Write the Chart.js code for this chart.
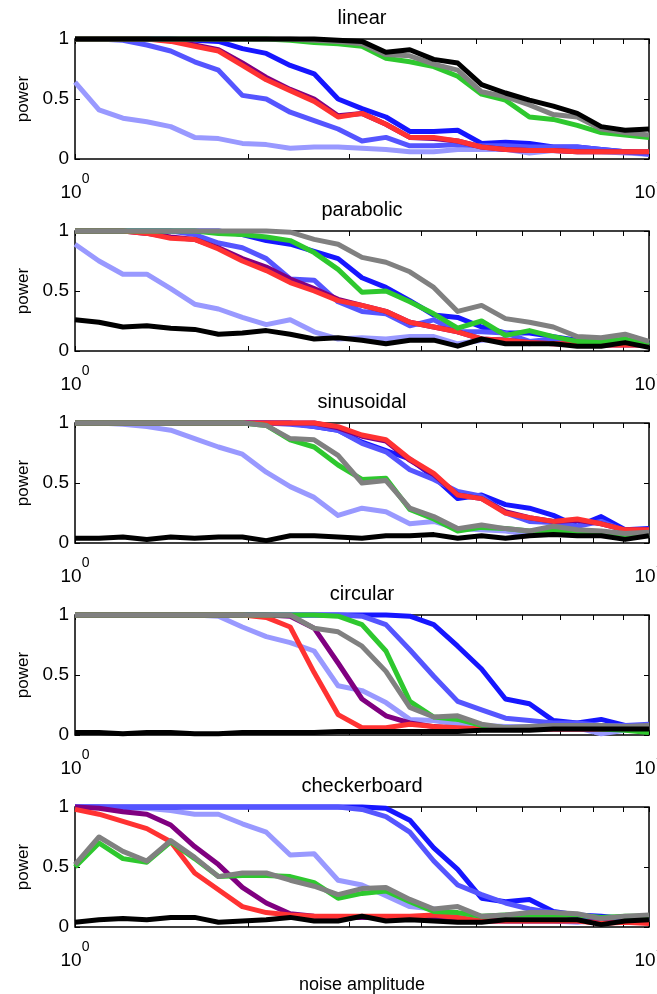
<!DOCTYPE html>
<html>
<head>
<meta charset="utf-8">
<script src="https://cdn.jsdelivr.net/npm/chart.js@4.4.1/dist/chart.umd.min.js"></script>
<style>
  html, body { margin: 0; padding: 0; background: #fff; }
  #wrap { position: relative; width: 657px; height: 994px; overflow: hidden; }
  #wrap canvas { position: absolute; left: 0; }
</style>
</head>
<body>
<div id="wrap"></div>
<script>
// noise amplitude, log spaced from 10^0 to 10^1
const noiseLevels = [1.000, 1.101, 1.212, 1.334, 1.468, 1.616, 1.778, 1.957, 2.154, 2.371, 2.610, 2.873,
  3.162, 3.481, 3.831, 4.217, 4.642, 5.109, 5.623, 6.190, 6.813, 7.499, 8.254, 9.085, 10.000];
const xTickValues = [1, 2, 3, 4, 5, 6, 7, 8, 9, 10];
const xLabelValues = [1, 10];
const yTickValues = [0, 0.5, 1];
const panelTitles = ['linear', 'parabolic', 'sinusoidal', 'circular', 'checkerboard'];

// linear
const linBlack = [1, 1, 1, 1, 1, 1, 1, 1, 1, 1, 1, 0.99, 0.98, 0.89, 0.91, 0.83, 0.80, 0.62, 0.55, 0.49, 0.44, 0.38, 0.27, 0.24, 0.25];
const linGray = [1, 1, 1, 1, 1, 1, 1, 1, 1, 1, 0.99, 0.98, 0.96, 0.87, 0.86, 0.79, 0.74, 0.56, 0.52, 0.45, 0.37, 0.35, 0.25, 0.22, 0.20];
const linGreen = [1, 1, 1, 1, 1, 1, 1, 1, 1, 0.99, 0.97, 0.96, 0.94, 0.84, 0.81, 0.77, 0.69, 0.54, 0.49, 0.35, 0.33, 0.28, 0.22, 0.20, 0.18];
const linRed = [1, 1, 1, 1, 0.98, 0.94, 0.90, 0.78, 0.66, 0.57, 0.48, 0.35, 0.38, 0.29, 0.18, 0.18, 0.15, 0.10, 0.08, 0.07, 0.07, 0.06, 0.06, 0.06, 0.06];
const linPurple = [1, 1, 1, 1, 0.99, 0.95, 0.91, 0.80, 0.68, 0.58, 0.50, 0.36, 0.38, 0.29, 0.18, 0.17, 0.15, 0.10, 0.08, 0.07, 0.07, 0.06, 0.06, 0.06, 0.06];
const linMedBlue = [1, 1, 0.99, 0.95, 0.90, 0.81, 0.74, 0.53, 0.50, 0.39, 0.32, 0.25, 0.15, 0.18, 0.11, 0.11, 0.12, 0.11, 0.11, 0.10, 0.10, 0.10, 0.08, 0.06, 0.04];
const linDarkBlue = [1, 1, 1, 1, 1, 0.99, 0.98, 0.92, 0.88, 0.78, 0.71, 0.50, 0.42, 0.35, 0.23, 0.23, 0.24, 0.13, 0.14, 0.13, 0.10, 0.10, 0.08, 0.06, 0.05];
const linLightBlue = [0.64, 0.41, 0.34, 0.31, 0.27, 0.18, 0.17, 0.13, 0.12, 0.09, 0.10, 0.10, 0.09, 0.08, 0.06, 0.06, 0.08, 0.08, 0.08, 0.05, 0.07, 0.06, 0.06, 0.05, 0.04];

// parabolic
const parBlack = [0.26, 0.24, 0.20, 0.21, 0.19, 0.18, 0.14, 0.15, 0.17, 0.14, 0.10, 0.11, 0.09, 0.06, 0.09, 0.09, 0.04, 0.10, 0.06, 0.06, 0.06, 0.04, 0.04, 0.07, 0.03];
const parGray = [1, 1, 1, 1, 1, 1, 1, 1, 1, 0.99, 0.93, 0.89, 0.78, 0.74, 0.66, 0.53, 0.33, 0.38, 0.27, 0.24, 0.20, 0.12, 0.11, 0.14, 0.08];
const parGreen = [1, 1, 1, 1, 1, 1, 0.98, 0.97, 0.95, 0.92, 0.82, 0.68, 0.49, 0.50, 0.41, 0.31, 0.19, 0.25, 0.13, 0.17, 0.12, 0.08, 0.08, 0.10, 0.05];
const parRed = [1, 1, 1, 0.98, 0.94, 0.93, 0.85, 0.75, 0.67, 0.57, 0.50, 0.42, 0.38, 0.33, 0.24, 0.20, 0.16, 0.10, 0.09, 0.07, 0.06, 0.06, 0.05, 0.05, 0.05];
const parPurple = [1, 1, 1, 0.98, 0.95, 0.93, 0.86, 0.77, 0.70, 0.60, 0.52, 0.43, 0.38, 0.33, 0.24, 0.20, 0.16, 0.10, 0.09, 0.07, 0.06, 0.06, 0.05, 0.05, 0.05];
const parMedBlue = [1, 1, 1, 1, 1, 0.97, 0.90, 0.86, 0.77, 0.60, 0.59, 0.41, 0.33, 0.31, 0.21, 0.26, 0.16, 0.16, 0.15, 0.08, 0.10, 0.08, 0.07, 0.06, 0.08];
const parDarkBlue = [1, 1, 1, 1, 1, 1, 1, 0.97, 0.92, 0.89, 0.83, 0.77, 0.61, 0.53, 0.42, 0.30, 0.28, 0.20, 0.15, 0.15, 0.12, 0.09, 0.08, 0.08, 0.06];
const parLightBlue = [0.89, 0.75, 0.64, 0.64, 0.52, 0.39, 0.35, 0.28, 0.22, 0.26, 0.16, 0.10, 0.11, 0.10, 0.12, 0.12, 0.06, 0.09, 0.10, 0.06, 0.09, 0.08, 0.05, 0.06, 0.08];

// sinusoidal
const sinBlack = [0.04, 0.04, 0.05, 0.03, 0.05, 0.04, 0.05, 0.05, 0.02, 0.06, 0.06, 0.05, 0.04, 0.06, 0.06, 0.07, 0.04, 0.06, 0.04, 0.06, 0.07, 0.06, 0.06, 0.03, 0.06];
const sinGray = [1, 1, 1, 1, 1, 1, 1, 1, 0.98, 0.87, 0.86, 0.73, 0.50, 0.52, 0.29, 0.22, 0.12, 0.15, 0.12, 0.10, 0.14, 0.11, 0.10, 0.08, 0.09];
const sinGreen = [1, 1, 1, 1, 1, 1, 1, 1, 0.98, 0.86, 0.80, 0.65, 0.53, 0.54, 0.28, 0.20, 0.10, 0.13, 0.12, 0.10, 0.10, 0.09, 0.08, 0.07, 0.08];
const sinRed = [1, 1, 1, 1, 1, 1, 1, 1, 1, 1, 1, 0.97, 0.90, 0.86, 0.70, 0.58, 0.40, 0.37, 0.25, 0.21, 0.18, 0.20, 0.16, 0.11, 0.11];
const sinPurple = [1, 1, 1, 1, 1, 1, 1, 1, 1, 1, 1, 0.96, 0.89, 0.85, 0.69, 0.57, 0.40, 0.37, 0.26, 0.21, 0.18, 0.19, 0.16, 0.11, 0.11];
const sinMedBlue = [1, 1, 1, 1, 1, 1, 1, 1, 1, 0.99, 0.97, 0.94, 0.83, 0.76, 0.61, 0.53, 0.43, 0.39, 0.25, 0.18, 0.17, 0.14, 0.18, 0.10, 0.09];
const sinDarkBlue = [1, 1, 1, 1, 1, 1, 1, 1, 1, 1, 0.97, 0.94, 0.84, 0.77, 0.70, 0.55, 0.37, 0.40, 0.32, 0.29, 0.23, 0.14, 0.22, 0.11, 0.12];
const sinLightBlue = [1, 1, 0.99, 0.97, 0.94, 0.87, 0.80, 0.74, 0.59, 0.47, 0.38, 0.23, 0.29, 0.26, 0.16, 0.18, 0.12, 0.11, 0.10, 0.07, 0.08, 0.08, 0.07, 0.07, 0.08];

// circular
const cirBlack = [0.02, 0.02, 0.01, 0.02, 0.02, 0.01, 0.01, 0.02, 0.02, 0.02, 0.02, 0.03, 0.03, 0.03, 0.03, 0.03, 0.03, 0.04, 0.04, 0.04, 0.05, 0.05, 0.05, 0.05, 0.05];
const cirGray = [1, 1, 1, 1, 1, 1, 1, 1, 1, 1, 0.89, 0.86, 0.74, 0.53, 0.23, 0.15, 0.16, 0.09, 0.06, 0.07, 0.08, 0.08, 0.08, 0.07, 0.08];
const cirGreen = [1, 1, 1, 1, 1, 1, 1, 1, 1, 1, 1, 0.99, 0.92, 0.70, 0.28, 0.15, 0.13, 0.08, 0.06, 0.06, 0.06, 0.06, 0.05, 0.04, 0.02];
const cirRed = [1, 1, 1, 1, 1, 1, 1, 1, 0.98, 0.90, 0.52, 0.17, 0.06, 0.06, 0.09, 0.07, 0.06, 0.05, 0.05, 0.05, 0.05, 0.05, 0.05, 0.05, 0.05];
const cirPurple = [1, 1, 1, 1, 1, 1, 1, 1, 1, 0.99, 0.89, 0.60, 0.30, 0.16, 0.10, 0.07, 0.05, 0.05, 0.05, 0.05, 0.05, 0.05, 0.05, 0.05, 0.05];
const cirMedBlue = [1, 1, 1, 1, 1, 1, 1, 1, 1, 1, 1, 1, 0.99, 0.92, 0.71, 0.49, 0.28, 0.21, 0.14, 0.12, 0.10, 0.10, 0.08, 0.08, 0.09];
const cirDarkBlue = [1, 1, 1, 1, 1, 1, 1, 1, 1, 1, 1, 1, 1, 1, 0.99, 0.92, 0.74, 0.55, 0.30, 0.26, 0.12, 0.10, 0.13, 0.08, 0.08];
const cirLightBlue = [1, 1, 1, 1, 1, 1, 0.99, 0.90, 0.82, 0.77, 0.70, 0.41, 0.37, 0.27, 0.13, 0.12, 0.09, 0.08, 0.07, 0.07, 0.06, 0.06, 0.01, 0.04, 0.05];

// checkerboard
const chkBlack = [0.04, 0.06, 0.07, 0.06, 0.08, 0.08, 0.04, 0.05, 0.06, 0.08, 0.05, 0.05, 0.09, 0.05, 0.06, 0.05, 0.04, 0.04, 0.06, 0.06, 0.06, 0.06, 0.02, 0.05, 0.06];
const chkGray = [0.52, 0.75, 0.63, 0.55, 0.72, 0.58, 0.42, 0.45, 0.45, 0.39, 0.34, 0.27, 0.32, 0.33, 0.23, 0.15, 0.17, 0.09, 0.10, 0.12, 0.12, 0.11, 0.07, 0.09, 0.10];
const chkGreen = [0.50, 0.70, 0.57, 0.54, 0.71, 0.57, 0.42, 0.43, 0.43, 0.42, 0.37, 0.24, 0.28, 0.30, 0.21, 0.13, 0.12, 0.09, 0.10, 0.10, 0.10, 0.10, 0.08, 0.09, 0.09];
const chkRed = [0.98, 0.94, 0.88, 0.82, 0.71, 0.45, 0.31, 0.17, 0.12, 0.10, 0.09, 0.09, 0.09, 0.09, 0.09, 0.10, 0.08, 0.05, 0.05, 0.05, 0.05, 0.05, 0.03, 0.04, 0.03];
const chkPurple = [1, 0.99, 0.96, 0.94, 0.85, 0.67, 0.52, 0.33, 0.20, 0.11, 0.09, 0.08, 0.08, 0.08, 0.07, 0.07, 0.06, 0.05, 0.05, 0.05, 0.05, 0.05, 0.04, 0.04, 0.04];
const chkMedBlue = [1, 1, 1, 1, 1, 1, 1, 1, 1, 1, 1, 1, 0.98, 0.92, 0.79, 0.55, 0.35, 0.27, 0.20, 0.15, 0.12, 0.09, 0.08, 0.07, 0.05];
const chkDarkBlue = [1, 1, 1, 1, 1, 1, 1, 1, 1, 1, 1, 1, 1, 0.99, 0.89, 0.66, 0.48, 0.24, 0.21, 0.23, 0.13, 0.10, 0.09, 0.07, 0.06];
const chkLightBlue = [1, 1, 0.99, 0.99, 0.97, 0.94, 0.94, 0.86, 0.79, 0.60, 0.61, 0.39, 0.35, 0.26, 0.17, 0.15, 0.10, 0.08, 0.05, 0.05, 0.05, 0.04, 0.06, 0.06, 0.05];

// first entry is drawn on top
const seriesColors = ['#000000', '#808080', '#2ec82e', '#ff3232', '#800080', '#5555ff', '#1616ff', '#9999ff'];
const panelSeries = [
  [linBlack, linGray, linGreen, linRed, linPurple, linMedBlue, linDarkBlue, linLightBlue],
  [parBlack, parGray, parGreen, parRed, parPurple, parMedBlue, parDarkBlue, parLightBlue],
  [sinBlack, sinGray, sinGreen, sinRed, sinPurple, sinMedBlue, sinDarkBlue, sinLightBlue],
  [cirBlack, cirGray, cirGreen, cirRed, cirPurple, cirMedBlue, cirDarkBlue, cirLightBlue],
  [chkBlack, chkGray, chkGreen, chkRed, chkPurple, chkMedBlue, chkDarkBlue, chkLightBlue]
];

const FONT = '"Liberation Sans", Arial, Helvetica, sans-serif';
Chart.defaults.font.family = FONT;
Chart.defaults.color = '#000';

// box, inward ticks, panel title and 10^n labels, matlab style
const matlabAxes = {
  id: 'matlabAxes',
  beforeDatasetsDraw(chart) {
    const { ctx, chartArea: a, scales: { x, y } } = chart;
    ctx.save();
    ctx.strokeStyle = '#000';
    ctx.lineWidth = 1.5;
    ctx.strokeRect(a.left, a.top, a.right - a.left, a.bottom - a.top);
    ctx.lineWidth = 1;
    ctx.beginPath();
    x.ticks.forEach(t => {
      const px = Math.round(x.getPixelForValue(t.value)) + 0.5;
      ctx.moveTo(px, a.bottom); ctx.lineTo(px, a.bottom - 5);
      ctx.moveTo(px, a.top); ctx.lineTo(px, a.top + 5);
    });
    y.ticks.forEach(t => {
      const py = Math.round(y.getPixelForValue(t.value)) + 0.5;
      ctx.moveTo(a.left, py); ctx.lineTo(a.left + 5, py);
      ctx.moveTo(a.right, py); ctx.lineTo(a.right - 5, py);
    });
    ctx.stroke();
    ctx.restore();
  },
  afterDraw(chart, args, opts) {
    const { ctx, chartArea: a, scales: { x } } = chart;
    ctx.save();
    ctx.fillStyle = '#000';
    ctx.textBaseline = 'alphabetic';

    ctx.textAlign = 'center';
    ctx.font = '20px ' + FONT;
    ctx.fillText(opts.title, (a.left + a.right) / 2, a.top - 15.5);

    ctx.textAlign = 'left';
    xLabelValues.forEach(v => {
      const px = x.getPixelForValue(v);
      const exp = String(Math.round(Math.log10(v)));
      ctx.font = '19px ' + FONT;
      const wb = ctx.measureText('10').width;
      ctx.font = '14px ' + FONT;
      const we = ctx.measureText(exp).width;
      const x0 = px - (wb + we) / 2;
      ctx.font = '19px ' + FONT;
      ctx.fillText('10', x0, a.bottom + 38.5);
      ctx.font = '14px ' + FONT;
      ctx.fillText(exp, x0 + wb, a.bottom + 24);
    });
    ctx.restore();
  }
};

const wrap = document.getElementById('wrap');
panelTitles.forEach((title, k) => {
  const isLast = k === panelTitles.length - 1;
  const h = isLast ? 226 : 200;
  const cv = document.createElement('canvas');
  cv.width = 657;
  cv.height = h;
  cv.style.top = (192 * k) + 'px';
  wrap.appendChild(cv);

  new Chart(cv, {
    type: 'line',
    data: {
      labels: noiseLevels,
      datasets: panelSeries[k].map((vals, i) => ({
        data: vals,
        borderColor: seriesColors[i],
        backgroundColor: seriesColors[i],
        borderWidth: 5,
        borderJoinStyle: 'round',
        pointRadius: 0,
        tension: 0,
        fill: false,
        clip: false
      }))
    },
    options: {
      responsive: false,
      animation: false,
      devicePixelRatio: 1,
      layout: { padding: { left: 0, right: 8, top: 39, bottom: 0 } },
      plugins: {
        legend: { display: false },
        tooltip: { enabled: false },
        title: { display: false },
        matlabAxes: { title: title }
      },
      scales: {
        x: {
          type: 'logarithmic',
          min: 1,
          max: 10,
          grid: { display: false, drawTicks: false },
          border: { display: false },
          ticks: { display: false },
          afterBuildTicks: s => { s.ticks = xTickValues.map(v => ({ value: v })); },
          afterFit: s => { s.height = h - 159; },
          title: {
            display: isLast,
            text: 'noise amplitude',
            color: '#000',
            font: { size: 18, lineHeight: 1 },
            padding: 0
          }
        },
        y: {
          min: 0,
          max: 1,
          grid: { display: false, drawTicks: false },
          border: { display: false },
          afterBuildTicks: s => { s.ticks = yTickValues.map(v => ({ value: v })); },
          afterFit: s => { s.width = 75; },
          ticks: { color: '#000', font: { size: 19 }, padding: 6, callback: v => String(v) },
          title: {
            display: true,
            text: 'power',
            color: '#000',
            font: { size: 17, lineHeight: 1.2 },
            padding: { top: 13, bottom: 0 }
          }
        }
      }
    },
    plugins: [matlabAxes]
  });
});
</script>
</body>
</html>
